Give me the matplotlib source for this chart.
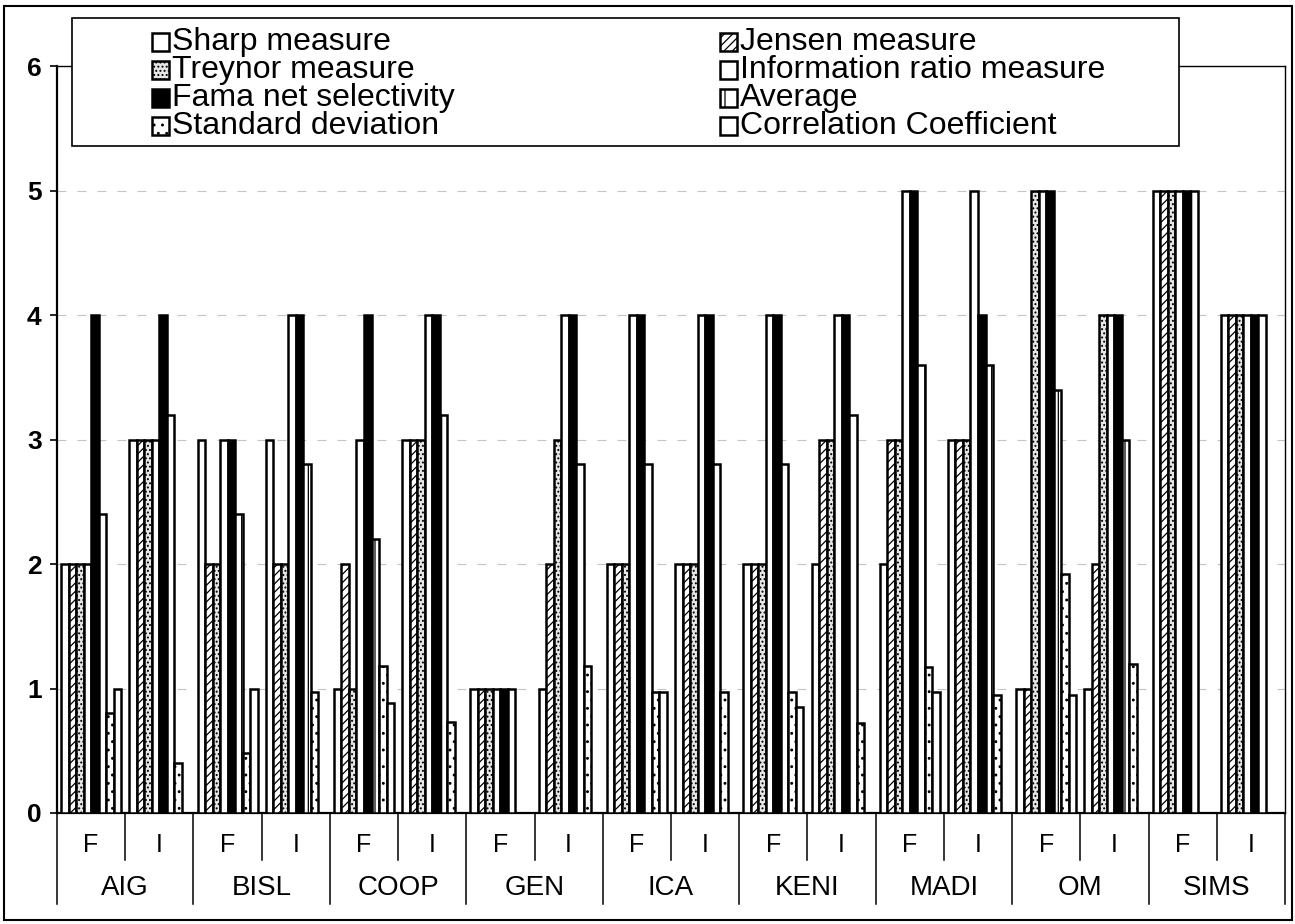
import matplotlib
matplotlib.use("Agg")
import matplotlib.pyplot as plt
from matplotlib.patches import Rectangle
import numpy as np

# ---- data -------------------------------------------------------------
companies = ["AIG", "BISL", "COOP", "GEN", "ICA", "KENI", "MADI", "OM", "SIMS"]
sub_labels = ["F", "I"]

series_names = [
    "Sharp measure", "Jensen measure", "Treynor measure",
    "Information ratio measure", "Fama net selectivity", "Average",
    "Standard deviation", "Correlation Coefficient",
]

# one value per (company, F/I) column, in the order AIG F, AIG I, BISL F, ...
sharp = [2, 3, 3, 3, 1, 3, 1, 1, 2, 2, 2, 2, 2, 3, 1, 1, 5, 4]
jensen = [2, 3, 2, 2, 2, 3, 1, 2, 2, 2, 2, 3, 3, 3, 1, 2, 5, 4]
treynor = [2, 3, 2, 2, 1, 3, 1, 3, 2, 2, 2, 3, 3, 3, 5, 4, 5, 4]
info_ratio = [2, 3, 3, 4, 3, 4, 1, 4, 4, 4, 4, 4, 5, 5, 5, 4, 5, 4]
fama = [4, 4, 3, 4, 4, 4, 1, 4, 4, 4, 4, 4, 5, 4, 5, 4, 5, 4]
average = [2.4, 3.2, 2.4, 2.8, 2.2, 3.2, 1, 2.8, 2.8, 2.8, 2.8, 3.2, 3.6, 3.6, 3.4, 3.0, 5, 4]
std_dev = [0.8, 0.4, 0.48, 0.97, 1.18, 0.73, 0, 1.18, 0.97, 0.97, 0.97, 0.72, 1.17, 0.95, 1.92, 1.2, 0, 0]
correl = [1.0, 0, 1.0, 0, 0.88, 0, 0, 0, 0.97, 0, 0.85, 0, 0.97, 0, 0.95, 0, 0, 0]

y_ticks = [0, 1, 2, 3, 4, 5, 6]

series_values = [sharp, jensen, treynor, info_ratio, fama, average, std_dev, correl]

# fill / hatch for each series (black & white print style)
styles = [
    dict(facecolor="white", hatch=None),
    dict(facecolor="white", hatch="////"),
    dict(facecolor="#e6e6e6", hatch="...."),
    dict(facecolor="white", hatch=None),
    dict(facecolor="black", hatch=None),
    dict(facecolor="white", hatch="|"),
    dict(facecolor="white", hatch=".."),
    dict(facecolor="white", hatch=None),
]

plt.rcParams["font.family"] = ["Liberation Sans", "DejaVu Sans"]
plt.rcParams["hatch.linewidth"] = 0.9

W, H = 1295, 924
fig = plt.figure(figsize=(W / 100, H / 100), dpi=100)


def fx(px):
    return px / W


def fy(py):
    return 1 - py / H


ax_top, ax_bot, ax_left, ax_right = 66, 813, 57, 1285
ax = fig.add_axes([fx(ax_left), fy(ax_bot), fx(ax_right - ax_left), (ax_bot - ax_top) / H])

n_cols = len(companies) * len(sub_labels)
x = np.arange(n_cols)
n_series = len(series_values)
bar_w = 0.11

for k, (vals, st) in enumerate(zip(series_values, styles)):
    offs = (k - (n_series - 1) / 2) * bar_w
    ax.bar(x + offs, vals, width=bar_w, facecolor=st["facecolor"],
           hatch=st["hatch"], edgecolor="black", linewidth=1.8, zorder=3)

ax.set_xlim(-0.5, n_cols - 0.5)
ax.set_ylim(0, 6)
ax.set_yticks(y_ticks)
ax.set_yticklabels([str(t) for t in y_ticks], fontweight="bold")
ax.set_xticks([])
ax.tick_params(axis="y", length=5, width=1.2, pad=6, labelsize=19, direction="out")

for t in y_ticks[1:-1]:
    ax.axhline(t, color="#c4c4c4", lw=0.8, ls=(0, (8, 10)), zorder=1)

for side in ["left", "bottom"]:
    ax.spines[side].set_linewidth(1.6)
for side in ["right", "top"]:
    ax.spines[side].set_linewidth(1.0)

# two-level category axis
trans = ax.get_xaxis_transform()
ax_h = ax_bot - ax_top
y_sub = -(845 - ax_bot) / ax_h
y_comp = -(888 - ax_bot) / ax_h
y_sub_sep = -(860 - ax_bot) / ax_h
y_comp_sep = -(904 - ax_bot) / ax_h

for i in range(n_cols):
    ax.text(x[i], y_sub, sub_labels[i % 2], transform=trans, ha="center",
            va="center", fontsize=18)
for c, name in enumerate(companies):
    ax.text(2 * c + 0.5, y_comp, name, transform=trans, ha="center",
            va="center", fontsize=20)
    ax.plot([2 * c + 0.5, 2 * c + 0.5], [0, y_sub_sep], transform=trans,
            color="black", lw=1.1, clip_on=False)
for c in range(len(companies) + 1):
    xb = 2 * c - 0.5
    ax.plot([xb, xb], [0, y_comp_sep], transform=trans, color="black",
            lw=1.1, clip_on=False)

# legend box drawn over the top of the plot area
lx0, ly0, lx1, ly1 = 72, 18, 1179, 146
fig.add_artist(Rectangle((fx(lx0), fy(ly1)), fx(lx1 - lx0), (ly1 - ly0) / H,
                         transform=fig.transFigure, facecolor="white",
                         edgecolor="black", lw=1.2, zorder=10))
row_y = [42, 70, 98, 126]
col_x = [152, 720]
mk = 17
for k, (name, st) in enumerate(zip(series_names, styles)):
    col = k % 2
    row = k // 2
    mx = col_x[col]
    my = row_y[row]
    fig.add_artist(Rectangle((fx(mx), fy(my + mk / 2)), fx(mk), mk / H,
                             transform=fig.transFigure,
                             facecolor=st["facecolor"], hatch=st["hatch"],
                             edgecolor="black", lw=1.8, zorder=11))
    fig.text(fx(mx + mk + 3), fy(my), name, ha="left", va="center",
             fontsize=23, zorder=12)

# outer chart border
fig.add_artist(Rectangle((fx(4), fy(920)), fx(1288), 914 / H,
                         transform=fig.transFigure, facecolor="none",
                         edgecolor="black", lw=1.5, zorder=0))

fig.savefig("out.png", dpi=100)
